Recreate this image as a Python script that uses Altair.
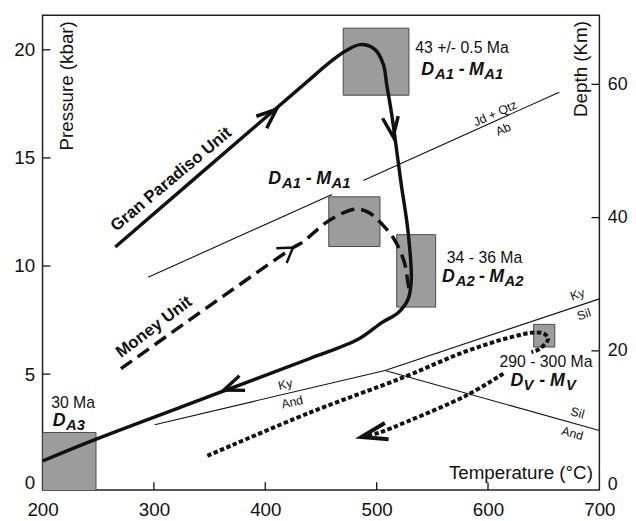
import altair as alt
import pandas as pd

FONT = "Liberation Sans"
INK = "#111111"

# ---------------- axes ----------------
T_DOMAIN = [200, 700]
P_DOMAIN = [-0.365, 21.6]
DEPTH_DOMAIN = [-0.89, 70.37]
x_labels = [200, 300, 400, 500, 600, 700]
p_labels = [0, 5, 10, 15, 20]
depth_labels = [0, 20, 40, 60]
x_ticks = [300, 400, 500, 600]
p_ticks = [5, 10, 15, 20]
depth_ticks = [20, 40, 60]

# ---------------- P-T paths ----------------
gp_T = [265.3, 407.3, 440.0, 454.3, 472.0, 485.3, 498.6, 506.0, 509.0, 513.4, 519.3,
        522.3, 528.1, 531.1, 528.1, 519.3, 504.6, 483.8, 439.5, 363.0, 247.6, 200.0]
gp_P = [10.88, 17.18, 18.63, 19.27, 19.94, 20.24, 20.01, 19.33, 18.41, 17.05, 14.84,
        13.70, 11.64, 9.36, 8.45, 7.84, 7.38, 6.62, 5.71, 4.22, 1.98, 0.98]

mu_T = [270.4, 425.0, 433.7, 457.2, 480.9, 492.7, 504.6, 516.3, 525.2, 528.1, 529.6]
mu_P = [5.25, 10.85, 11.11, 12.10, 12.63, 12.48, 11.95, 11.19, 10.12, 9.21, 8.83]

vs_T = [348.0, 440.0, 525.0, 578.0, 620.0, 643.0, 651.0, 654.0, 646.0, 639.0,
        613.8, 581.3, 528.1, 501.5, 486.2]
vs_P = [1.22, 3.22, 4.87, 6.01, 6.70, 6.93, 6.85, 6.62, 6.16, 6.01,
        5.02, 4.03, 2.82, 2.28, 2.09]
vs_seg = [1] * 10 + [2] * 5

# ---------------- reaction lines ----------------
rx_T = [294.8, 460.0, 488.0, 664.0, 300.7, 507.5, 507.5, 700.0, 507.5, 700.0]
rx_P = [9.48, 13.31, 13.96, 18.04, 2.66, 5.17, 5.17, 8.48, 5.17, 2.39]
rx_seg = ["jd1", "jd1", "jd2", "jd2", "kyand", "kyand", "kysil", "kysil", "siland", "siland"]

# ---------------- age boxes ----------------
box_T1 = [470, 457, 518, 641, 200]
box_T2 = [529, 503, 553, 660, 248]
box_P1 = [17.9, 10.9, 8.1, 6.25, -0.4]
box_P2 = [21.0, 13.2, 11.45, 7.3, 2.3]

# ---------------- arrows (tip position, direction) ----------------
arr_gp_T = [410.0, 514.8, 362.8]
arr_gp_P = [17.25, 15.98, 4.26]
arr_gp_angle = [319, 82, 159]
arr_mu_T = [424.8]
arr_mu_P = [10.85]
arr_vs_T = [486.2]
arr_vs_P = [2.09]

# ---------------- text ----------------
plain_text = ["43 +/- 0.5 Ma", "34 - 36 Ma", "30 Ma", "290 - 300 Ma"]
plain_T = [534.7, 563.0, 207.7, 610.3]
plain_P = [19.86, 10.15, 3.42, 5.33]

unit_text = ["Gran Paradiso Unit", "Money Unit"]
unit_T = [315.5, 300.1]
unit_P = [14.0, 7.17]
unit_angle = [320, 323]

small_text = ["Jd + Qtz", "Ab", "Ky", "Sil", "Sil", "And", "Ky", "And"]
small_T = [606.5, 613.8, 680.3, 686.2, 680.3, 675.8, 418.0, 424.2]
small_P = [17.05, 16.32, 8.68, 7.76, 3.20, 2.25, 4.52, 3.70]
small_angle = [336, 336, 341, 341, 15, 15, 347, 347]

# stage labels: (anchor T, anchor P, [(text, is_subscript)])
stage_T = [540.0, 402.7, 558.6, 209.1, 620.3]
stage_P = [18.84, 13.80, 9.24, 2.59, 4.46]
stage_parts = [
    [("D", 0, False), ("A1", 14, True), ("-", 38, False), ("M", 48.5, False), ("A1", 64, True)],
    [("D", 0, False), ("A1", 14, True), ("-", 38, False), ("M", 48.5, False), ("A1", 64, True)],
    [("D", 0, False), ("A2", 14, True), ("-", 37.5, False), ("M", 48, False), ("A2", 63.5, True)],
    [("D", 0, False), ("A3", 13.5, True)],
    [("D", 0, False), ("V", 13, True), ("-", 29, False), ("M", 40, False), ("V", 56, True)],
]


def xenc(field):
    return alt.X(f"{field}:Q",
                 scale=alt.Scale(domain=T_DOMAIN, nice=False, zero=False),
                 axis=alt.Axis(values=x_labels, title="Temperature (°C)", titleX=484, titleY=-18,
                               titleAngle=0, titleAlign="center", titleBaseline="middle",
                               ticks=False, tickSize=0, labelPadding=11, domain=False, grid=False,
                               labelFlush=False, labelOverlap=False, labelFontSize=19,
                               titleFontSize=19, titleFontWeight="normal", labelFont=FONT,
                               titleFont=FONT, labelColor=INK, titleColor=INK, format="d"))


def yenc(field):
    return alt.Y(f"{field}:Q",
                 scale=alt.Scale(domain=P_DOMAIN, nice=False, zero=False),
                 axis=alt.Axis(values=p_labels, title="Pressure (kbar)", titleX=24.5, titleY=71,
                               titleAngle=270, titleAlign="center", titleBaseline="middle",
                               ticks=False, tickSize=0, labelPadding=8, domain=False, grid=False,
                               labelOverlap=False, labelFontSize=19, titleFontSize=19,
                               titleFontWeight="normal", labelFont=FONT, titleFont=FONT,
                               labelColor=INK, titleColor=INK, format="d"))


layers = []

# reaction lines
rx = pd.DataFrame({"T": rx_T, "P": rx_P, "seg": rx_seg})
layers.append(alt.Chart(rx).mark_line(color=INK, strokeWidth=1.1).encode(
    x=xenc("T"), y=yenc("P"), detail="seg:N"))

# boxes
bx = pd.DataFrame({"T1": box_T1, "T2": box_T2, "P1": box_P1, "P2": box_P2})
layers.append(alt.Chart(bx).mark_rect(fill="#9c9c9c", stroke="#4a4a4a", strokeWidth=1, clip=True).encode(
    x=xenc("T1"), x2="T2:Q", y=yenc("P1"), y2="P2:Q"))

# inward ticks
layers.append(alt.Chart(pd.DataFrame({"T": x_ticks})).mark_rule(color=INK, strokeWidth=1.3).encode(
    x=xenc("T"), y=alt.value(481), y2=alt.value(473)))
layers.append(alt.Chart(pd.DataFrame({"P": p_ticks})).mark_rule(color=INK, strokeWidth=1.3).encode(
    y=yenc("P"), x=alt.value(0), x2=alt.value(8)))

# paths
gp = pd.DataFrame({"T": gp_T, "P": gp_P, "i": range(len(gp_T))})
layers.append(alt.Chart(gp).mark_line(color=INK, strokeWidth=3.5, interpolate="catmull-rom").encode(
    x=xenc("T"), y=yenc("P"), order="i:Q"))
mu = pd.DataFrame({"T": mu_T, "P": mu_P, "i": range(len(mu_T))})
layers.append(alt.Chart(mu).mark_line(color=INK, strokeWidth=3.5, strokeDash=[14, 7],
                                      interpolate="catmull-rom").encode(
    x=xenc("T"), y=yenc("P"), order="i:Q"))
vs = pd.DataFrame({"T": vs_T, "P": vs_P, "seg": vs_seg, "i": range(len(vs_T))})
layers.append(alt.Chart(vs).mark_line(color=INK, strokeWidth=4, strokeDash=[4.5, 2.5],
                                      interpolate="catmull-rom").encode(
    x=xenc("T"), y=yenc("P"), detail="seg:N", order="i:Q"))

# arrowheads
for t, p, a in zip(arr_gp_T, arr_gp_P, arr_gp_angle):
    layers.append(alt.Chart(pd.DataFrame({"T": [t], "P": [p]})).mark_point(
        shape="M-1,-0.4L0,0L-1,0.4", size=1600, angle=a, filled=False, opacity=1,
        color=INK, strokeWidth=3.5).encode(x=xenc("T"), y=yenc("P")))
layers.append(alt.Chart(pd.DataFrame({"T": arr_mu_T, "P": arr_mu_P})).mark_point(
    shape="M-1,-0.65L0,0L-1,0.65", size=800, angle=325, filled=False, opacity=1,
    color=INK, strokeWidth=2.5).encode(x=xenc("T"), y=yenc("P")))
layers.append(alt.Chart(pd.DataFrame({"T": arr_vs_T, "P": arr_vs_P})).mark_point(
    shape="M-1,-0.32L0,0L-1,0.32", size=2800, angle=167, filled=False, opacity=1,
    color=INK, strokeWidth=4).encode(x=xenc("T"), y=yenc("P")))

# plain text
layers.append(alt.Chart(pd.DataFrame({"T": plain_T, "P": plain_P, "s": plain_text})).mark_text(
    align="left", baseline="alphabetic", font=FONT, fontSize=16, color=INK).encode(
    x=xenc("T"), y=yenc("P"), text="s:N"))

for s, t, p, a in zip(unit_text, unit_T, unit_P, unit_angle):
    layers.append(alt.Chart(pd.DataFrame({"T": [t], "P": [p]})).mark_text(
        text=s, angle=a, align="center", baseline="middle", font=FONT, fontSize=17,
        fontWeight="bold", color=INK).encode(x=xenc("T"), y=yenc("P")))

for s, t, p, a in zip(small_text, small_T, small_P, small_angle):
    layers.append(alt.Chart(pd.DataFrame({"T": [t], "P": [p]})).mark_text(
        text=s, angle=a, align="center", baseline="middle", font=FONT, fontSize=12.5,
        color=INK).encode(x=xenc("T"), y=yenc("P")))

for t, p, parts in zip(stage_T, stage_P, stage_parts):
    df = pd.DataFrame({"T": [t], "P": [p]})
    for s, dx, sub in parts:
        layers.append(alt.Chart(df).mark_text(
            text=s, dx=dx, dy=4 if sub else 0, align="left", baseline="alphabetic",
            font=FONT, fontSize=15 if sub else 18, fontWeight="bold", fontStyle="italic",
            color=INK).encode(x=xenc("T"), y=yenc("P")))

main = alt.layer(*layers)

depth = alt.Chart(pd.DataFrame({"D": depth_ticks})).mark_rule(color=INK, strokeWidth=1.3).encode(
    y=alt.Y("D:Q", scale=alt.Scale(domain=DEPTH_DOMAIN, nice=False, zero=False),
            axis=alt.Axis(orient="right", values=depth_labels, title="Depth (Km)",
                          titleX=-19, titleY=54, titleAngle=270, titleAlign="center",
                          titleBaseline="middle", ticks=False, tickSize=0, labelPadding=8,
                          domain=False, grid=False, labelOverlap=False, labelFontSize=18,
                          titleFontSize=19, titleFontWeight="normal", labelFont=FONT,
                          titleFont=FONT, labelColor=INK, titleColor=INK, format="d")),
    x=alt.value(556), x2=alt.value(564))

chart = alt.layer(main, depth).resolve_scale(y="independent").properties(
    width=564, height=481,
    padding={"left": 35, "top": 4, "right": 29, "bottom": 28},
    autosize=alt.AutoSizeParams(type="none"),
).configure_view(stroke="#222222", strokeWidth=1.5)

chart.save("out.html", embed_options={"renderer": "svg", "actions": False})
